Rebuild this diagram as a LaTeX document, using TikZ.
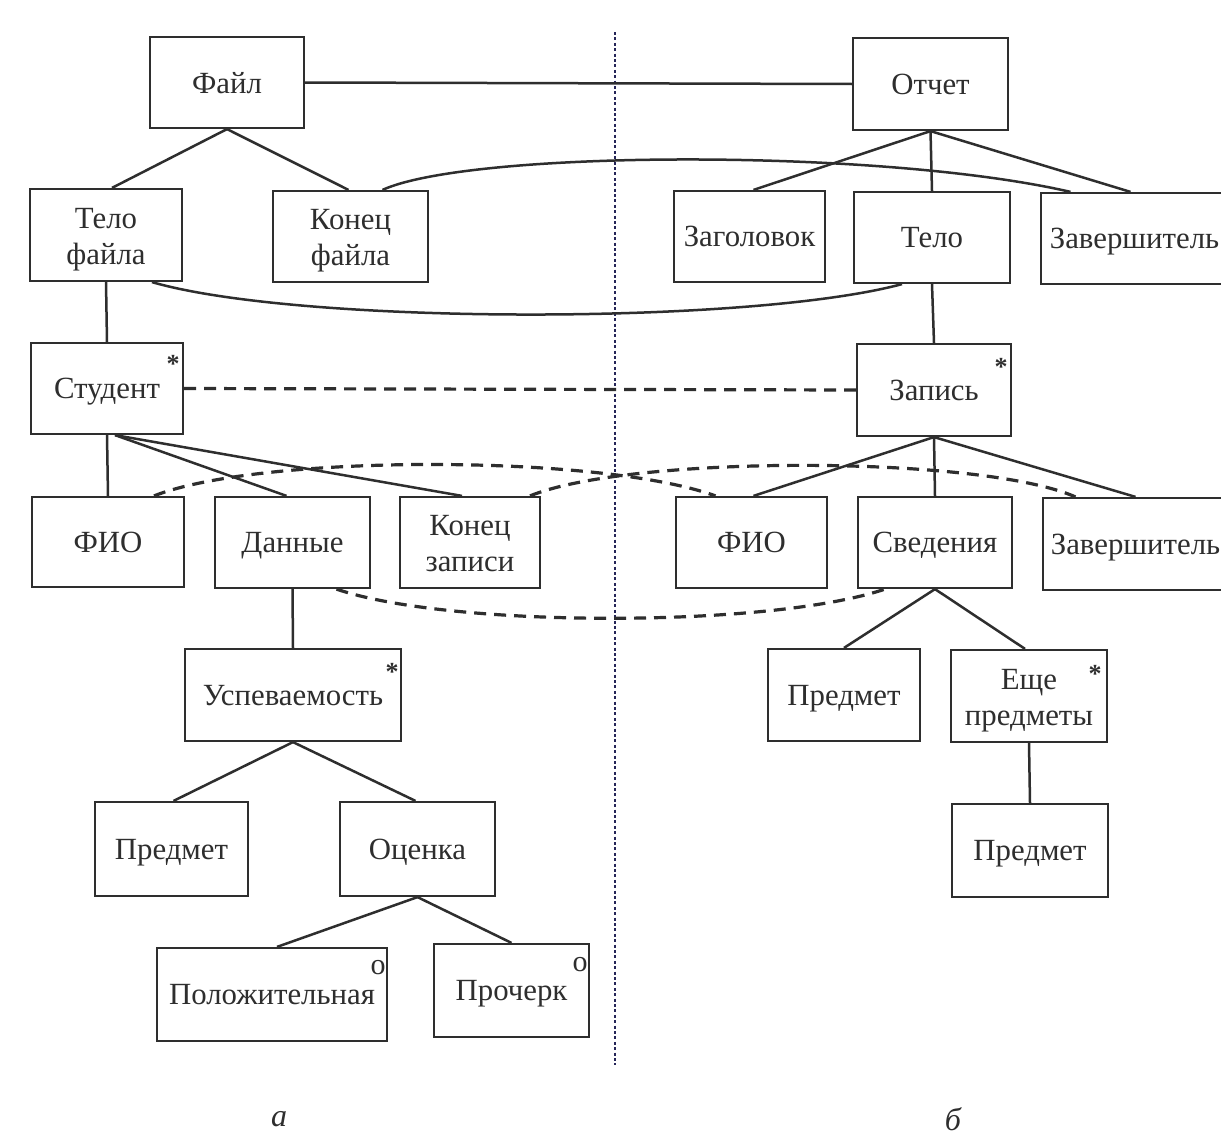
\documentclass[tikz,border=0pt]{standalone}
\usepackage{fontspec}
\setmainfont{Liberation Serif}
\definecolor{ink}{HTML}{2E2E2E}
\newcommand\mybox[7]{\node[box, #2, minimum width={(#5-#3)*0.5pt}, minimum height={(#6-#4)*0.5pt}] (#1) at ({(#3+#5)/2},{(#4+#6)/2}) {#7};}
\newcommand\twol[2]{\raisebox{0pt}[\height][\dimexpr\depth-4pt\relax]{\begin{tabular}{@{}c@{}}#1\\#2\end{tabular}}}
\tikzset{
  box/.style={draw=ink, line width=1.1pt, rectangle, inner sep=0pt, text=ink, font=\fontsize{15.4}{18}\selectfont},
  one/.style={text depth=0pt},
  two/.style={},
  link/.style={draw=ink, line width=1.25pt},
  dlink/.style={draw=ink, line width=1.6pt, dash pattern=on 6pt off 4pt},
  divider/.style={draw=ink!80!blue, line width=0.6pt, dash pattern=on 1.5pt off 1.2pt},
  starmark/.style={inner sep=0pt, text=ink, font=\fontsize{13}{13}\selectfont\bfseries},
  omark/.style={inner sep=0pt, text=ink, font=\fontsize{15}{15}\selectfont},
  lbl/.style={inner sep=0pt, text=ink, font=\fontsize{16}{16}\selectfont\itshape}
}
\begin{document}
\begin{tikzpicture}[x=0.5pt, y=-0.5pt]
\useasboundingbox (0,0) rectangle (1221,1135);
\clip (0,0) rectangle (1221,1135);
\fill[white] (0,0) rectangle (1221,1135);

% divider
\coordinate (dtop) at (615,32);
\coordinate (dbot) at (615,1065);
\draw[divider] (dtop) -- (dbot);

% boxes, left
\mybox{fajl}{one}{150}{37}{304}{128}{Файл}
\mybox{telof}{two}{30}{189}{182}{281}{\twol{Тело}{файла}}
\mybox{konf}{two}{273}{191}{428}{282}{\twol{Конец}{файла}}
\mybox{student}{one}{31}{343}{183}{434}{Студент}
\mybox{fio1}{one}{32}{497}{184}{587}{ФИО}
\mybox{dannye}{one}{215}{497}{370}{588}{Данные}
\mybox{konz}{two}{400}{497}{540}{588}{\twol{Конец}{записи}}
\mybox{usp}{one}{185}{649}{401}{741}{Успеваемость}
\mybox{predL}{one}{95}{802}{248}{896}{Предмет}
\mybox{ocenka}{one}{340}{802}{495}{896}{Оценка}
\mybox{polozh}{one}{157}{948}{387}{1041}{Положительная}
\mybox{procherk}{one}{434}{944}{589}{1037}{Прочерк}

% boxes, right
\mybox{otchet}{one}{853}{38}{1008}{130}{Отчет}
\mybox{zag}{one}{674}{191}{825}{282}{Заголовок}
\mybox{telo}{one}{854}{192}{1010}{283}{Тело}
\mybox{zav1}{one}{1041}{193}{1228}{284}{Завершитель}
\mybox{zapis}{one}{857}{344}{1011}{436}{Запись}
\mybox{fio2}{one}{676}{497}{827}{588}{ФИО}
\mybox{sved}{one}{858}{497}{1012}{588}{Сведения}
\mybox{zav2}{one}{1043}{498}{1228}{590}{Завершитель}
\mybox{predR1}{one}{768}{649}{920}{741}{Предмет}
\mybox{esche}{two}{951}{650}{1107}{742}{\twol{Еще}{предметы}}
\mybox{predR2}{one}{952}{804}{1108}{897}{Предмет}

% marks
\node[starmark] (m1) at ([xshift=-5.5pt,yshift=-11pt]student.north east) {*};
\node[starmark] (m2) at ([xshift=-5.5pt,yshift=-12pt]zapis.north east) {*};
\node[starmark] (m3) at ([xshift=-5pt,yshift=-12pt]usp.north east) {*};
\node[starmark] (m4) at ([xshift=-6.5pt,yshift=-12.5pt]esche.north east) {*};
\node[omark] (o1) at ([xshift=-5pt,yshift=-10.5pt]polozh.north east) {o};
\node[omark] (o2) at ([xshift=-5pt,yshift=-11pt]procherk.north east) {o};

% tree links
\draw[link] (fajl.south) -- ([xshift=3pt]telof.north);
\draw[link] (fajl.south) -- ([xshift=-1pt]konf.north);
\draw[link] (fajl.east) -- (otchet.west);
\draw[link] (otchet.south) -- ([xshift=2pt]zag.north);
\draw[link] (otchet.south) -- (telo.north);
\draw[link] (otchet.south) -- ([xshift=-2pt]zav1.north);
\draw[link] (telof.south) -- (student.north);
\draw[link] (telo.south) -- (zapis.north);
\draw[link] (student.south) -- (fio1.north);
\draw[link] ([xshift=4pt]student.south) -- ([xshift=-3pt]dannye.north);
\draw[link] ([xshift=4pt]student.south) -- ([xshift=-4pt]konz.north);
\draw[link] (zapis.south) -- ([xshift=1pt]fio2.north);
\draw[link] (zapis.south) -- (sved.north);
\draw[link] (zapis.south) -- (zav2.north);
\draw[link] (dannye.south) -- (usp.north);
\draw[link] (usp.south) -- ([xshift=1pt]predL.north);
\draw[link] (usp.south) -- ([xshift=-1pt]ocenka.north);
\draw[link] (ocenka.south) -- ([xshift=2.5pt]polozh.north);
\draw[link] (ocenka.south) -- (procherk.north);
\draw[link] (sved.south) -- (predR1.north);
\draw[link] (sved.south) -- ([xshift=-2pt]esche.north);
\draw[link] (esche.south) -- (predR2.north);

% correspondence curves
\draw[link] ([xshift=16pt]konf.north) .. controls (470,150) and (880,148) .. ([xshift=-32pt]zav1.north);
\draw[link] ([xshift=23pt]telof.south) .. controls (300,325) and (750,325) .. ([xshift=-15pt]telo.south);
\draw[dlink] (student.east) -- (zapis.west);
\draw[dlink] ([xshift=23pt]fio1.north) .. controls (260,454) and (600,454) .. ([xshift=-18pt]fio2.north);
\draw[dlink] ([xshift=30pt]konz.north) .. controls (630,455) and (980,455) .. ([xshift=-30pt]zav2.north);
\draw[dlink] ([xshift=22pt]dannye.south) .. controls (450,628) and (770,628) .. ([xshift=-25pt]sved.south);

% captions
\node[lbl] (la) at (279,1119) {а};
\node[lbl] (lb) at (953,1119) {б};
\end{tikzpicture}
\end{document}
